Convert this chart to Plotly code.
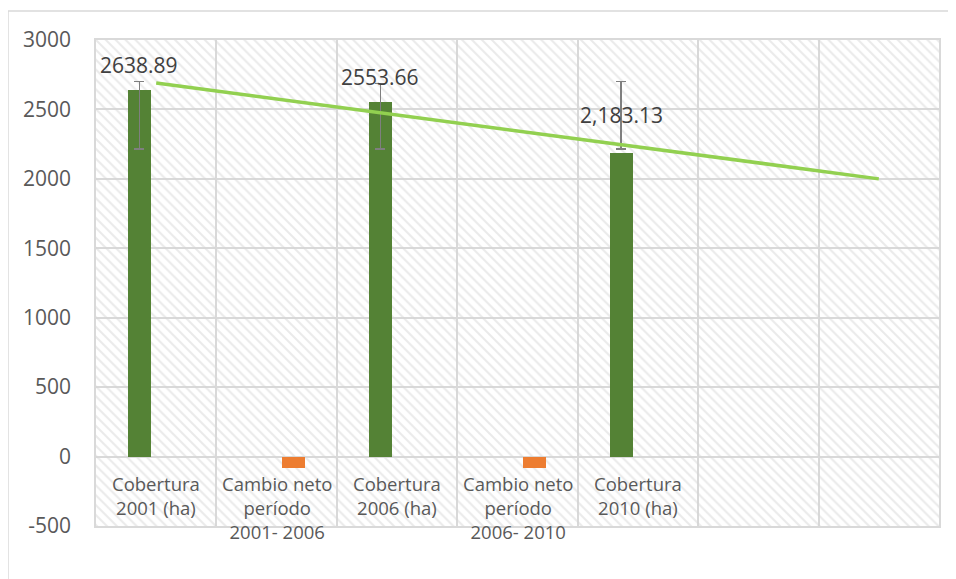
import plotly.graph_objects as go

# ---- data ----
categories = ["Cobertura<br>2001 (ha)", "Cambio neto<br>período<br>2001- 2006",
              "Cobertura<br>2006 (ha)", "Cambio neto<br>período<br>2006- 2010",
              "Cobertura<br>2010 (ha)", "", ""]
cover_idx = [0, 2, 4]
cover_values = [2638.89, 2553.66, 2183.13]
cover_labels = ["2638.89", "2553.66", "2,183.13"]
change_idx = [1, 3]
change_values = [-85.23, -85.0]
err_top = [2700, 2688, 2700]
err_bottom = [2215, 2215, 2215]
trend_x = [0, 6]
trend_y = [2690, 2000]
y_ticks = [-500, 0, 500, 1000, 1500, 2000, 2500, 3000]
y_tick_labels = ["-500", "0", "500", "1000", "1500", "2000", "2500", "3000"]

# ---- styling ----
Y_MIN, Y_MAX = -500, 3000
GREEN = "#548235"
ORANGE = "#ed7d31"
TREND = "#92d050"
GRID = "#d9d9d9"
TXT = "#595959"
FONT = "Open Sans"
BAR_W = 0.19
label_shift = [25, 25, 38]

n = len(categories)
err_plus = [t - v for t, v in zip(err_top, cover_values)]
err_minus = [v - b for v, b in zip(cover_values, err_bottom)]

fig = go.Figure()

# hatched plot background
fig.add_trace(go.Bar(
    x=[(n - 1) / 2], y=[Y_MAX - Y_MIN], base=[Y_MIN], width=[n],
    marker=dict(color="rgba(0,0,0,0)", line=dict(width=0),
                pattern=dict(shape="\\", fgcolor="#d6d6d6", bgcolor="rgba(0,0,0,0)",
                             size=7, solidity=0.3)),
    hoverinfo="skip", showlegend=False))

fig.add_trace(go.Bar(
    x=cover_idx, y=cover_values, width=BAR_W, offset=-0.234,
    marker=dict(color=GREEN, line=dict(width=0)),
    error_y=dict(type="data", symmetric=False, array=err_plus, arrayminus=err_minus,
                 color="#7f7f7f", thickness=1.5, width=5),
    hoverinfo="skip", showlegend=False))

fig.add_trace(go.Bar(
    x=change_idx, y=change_values, width=BAR_W, offset=0.043,
    marker=dict(color=ORANGE, line=dict(width=0)),
    hoverinfo="skip", showlegend=False))

fig.add_trace(go.Scatter(
    x=trend_x, y=trend_y, mode="lines",
    line=dict(color=TREND, width=3.5),
    hoverinfo="skip", showlegend=False))

# data labels
for i, v, t, s in zip(cover_idx, cover_values, cover_labels, label_shift):
    fig.add_annotation(x=i - 0.139, y=v, text=t, showarrow=False,
                       yanchor="middle", yshift=s,
                       font=dict(family=FONT, size=21, color="#404040"))

# category labels (drawn below the zero line, as in the reference)
for i, c in enumerate(categories):
    if c:
        fig.add_annotation(x=i, y=0, text=c, showarrow=False, yanchor="top",
                           yshift=-12, align="center",
                           font=dict(family=FONT, size=18.5, color=TXT))

# outer chart frame
fig.add_shape(type="rect", xref="paper", yref="paper",
              x0=-0.1044, x1=1.05, y0=-0.2, y1=1.0597,
              line=dict(color=GRID, width=1.5), layer="below")

fig.update_layout(
    width=956, height=579,
    margin=dict(l=88, r=25, t=32, b=61),
    paper_bgcolor="white", plot_bgcolor="white",
    barmode="overlay", bargap=0,
    font=dict(family=FONT, color=TXT),
    xaxis=dict(range=[-0.5, n - 0.5], tickvals=[k - 0.5 for k in range(n + 1)],
               showticklabels=False, ticks="", showgrid=True, gridcolor=GRID,
               gridwidth=1.5, zeroline=False, showline=True, mirror=True,
               linecolor=GRID, linewidth=1.5, fixedrange=True),
    yaxis=dict(range=[Y_MIN, Y_MAX], tickvals=y_ticks, ticktext=y_tick_labels,
               showgrid=True, gridcolor=GRID, gridwidth=1.5, zeroline=False,
               showline=True, mirror=True, linecolor=GRID, linewidth=1.5, ticks="",
               ticklabelstandoff=19, tickfont=dict(family=FONT, size=21, color=TXT),
               fixedrange=True),
)

fig.write_html("out.html")
